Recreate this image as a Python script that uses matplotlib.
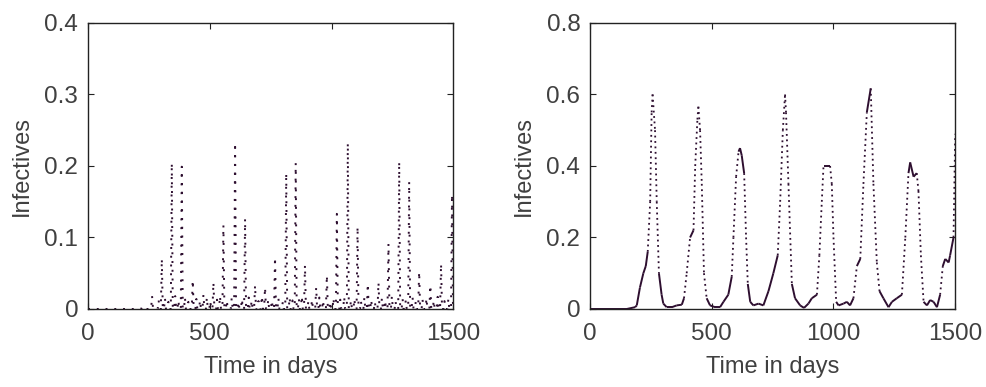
import numpy as np
import matplotlib
matplotlib.use("Agg")
import matplotlib.pyplot as plt
from matplotlib.collections import LineCollection

plt.rcParams['font.family'] = ['Liberation Sans', 'DejaVu Sans']

# left panel: fast spikes (time, peak height)
spike_t = [222, 263, 303, 344, 385, 430, 474, 515, 556, 604, 645, 686, 727, 768, 814, 853,
           891, 937, 981, 1022, 1067, 1107, 1149, 1193, 1234, 1278, 1319, 1360, 1406, 1450, 1495]
spike_h = [0.003, 0.018, 0.070, 0.204, 0.199, 0.040, 0.020, 0.037, 0.117, 0.232, 0.126, 0.033,
           0.030, 0.072, 0.190, 0.204, 0.061, 0.030, 0.047, 0.133, 0.232, 0.115, 0.035, 0.037,
           0.091, 0.206, 0.178, 0.052, 0.033, 0.063, 0.160]
small_t = [290, 316, 330, 358, 371, 398, 412, 445, 460, 488, 502, 530, 542, 570, 590, 618, 632,
           660, 672, 700, 714, 740, 755, 782, 800, 828, 840, 866, 878, 905, 920, 950, 965, 995,
           1008, 1036, 1052, 1080, 1094, 1121, 1135, 1163, 1178, 1207, 1220, 1248, 1263, 1292,
           1305, 1333, 1346, 1374, 1390, 1420, 1436, 1464, 1480]
small_h = [0.012, 0.015, 0.010, 0.018, 0.012, 0.016, 0.010, 0.014, 0.012, 0.016, 0.011, 0.013,
           0.018, 0.012, 0.015, 0.010, 0.014, 0.016, 0.012, 0.011, 0.018, 0.013, 0.012, 0.015,
           0.010, 0.016, 0.012, 0.014, 0.018, 0.011, 0.013, 0.016, 0.012, 0.010, 0.015, 0.013,
           0.017, 0.012, 0.014, 0.011, 0.016, 0.013, 0.010, 0.015, 0.012, 0.018, 0.011, 0.014,
           0.012, 0.016, 0.010, 0.013, 0.015, 0.012, 0.017, 0.011, 0.014]

# right panel: slow epidemic waves
wave_t = [0, 151, 185, 192, 205, 219, 229, 237, 247, 253, 257, 267, 274, 283, 294, 301, 315,
          336, 356, 377, 386, 397, 411, 425, 432, 441, 445, 452, 459, 468, 479, 493, 514, 534,
          548, 568, 582, 589, 600, 610, 616, 623, 633, 641, 648, 658, 671, 692, 712, 733, 753,
          771, 781, 792, 801, 805, 815, 829, 842, 863, 879, 897, 911, 932, 942, 952, 959, 973,
          986, 993, 1000, 1011, 1021, 1041, 1055, 1068, 1082, 1096, 1110, 1123, 1137, 1153, 1164,
          1178, 1189, 1205, 1226, 1240, 1260, 1281, 1295, 1308, 1315, 1329, 1342, 1349, 1359,
          1370, 1384, 1397, 1411, 1425, 1438, 1449, 1459, 1473, 1479, 1493, 1500]
wave_i = [0, 0, 0.005, 0.01, 0.06, 0.10, 0.12, 0.16, 0.30, 0.55, 0.60, 0.50, 0.30, 0.10, 0.04,
          0.015, 0.005, 0.005, 0.01, 0.012, 0.03, 0.10, 0.20, 0.22, 0.40, 0.53, 0.566, 0.50,
          0.35, 0.10, 0.03, 0.01, 0.005, 0.005, 0.02, 0.04, 0.09, 0.20, 0.37, 0.44, 0.45, 0.43,
          0.38, 0.20, 0.07, 0.02, 0.01, 0.015, 0.01, 0.05, 0.10, 0.15, 0.30, 0.50, 0.60, 0.55,
          0.35, 0.07, 0.03, 0.01, 0.003, 0.015, 0.03, 0.04, 0.15, 0.30, 0.40, 0.40, 0.40, 0.35,
          0.20, 0.02, 0.01, 0.015, 0.02, 0.01, 0.03, 0.12, 0.14, 0.35, 0.55, 0.617, 0.35, 0.13,
          0.05, 0.03, 0.005, 0.02, 0.03, 0.04, 0.20, 0.38, 0.41, 0.37, 0.38, 0.33, 0.15, 0.02,
          0.01, 0.025, 0.02, 0.005, 0.04, 0.12, 0.14, 0.13, 0.15, 0.20, 0.49]

line_col = '#2e0f30'
text_col = '#404040'

fig = plt.figure(figsize=(9.87, 3.87), dpi=100)
ax1 = fig.add_axes([0.0892, 0.2016, 0.370, 0.739])
ax2 = fig.add_axes([0.5978, 0.2016, 0.370, 0.739])

# left: build spike path from the spike lists
events = sorted(zip(spike_t + small_t, spike_h + small_h))
xs, ys = [0], [0]
for t, h in events:
    xs += [t - 4, t, t + 4]
    ys += [0, h, 0]
xs.append(1500)
ys.append(0)
ax1.plot(xs, ys, color=line_col, lw=1.4, linestyle=(0, (1, 3.5)))

# right: slow stretches look solid, fast stretches dotted
t = np.array(wave_t, dtype=float)
v = np.array(wave_i)
segs = [[(t[k], v[k]), (t[k + 1], v[k + 1])] for k in range(len(t) - 1)]
slope = np.abs(np.diff(v) / np.diff(t))
styles = ['solid' if s < 0.006 else (0, (1, 2)) for s in slope]
widths = [1.4 if s < 0.006 else 1.3 for s in slope]
ax2.add_collection(LineCollection(segs, colors=line_col, linestyles=styles, linewidths=widths))

for ax, ymax, yt, ylab in [(ax1, 0.4, [0, 0.1, 0.2, 0.3, 0.4], ['0', '0.1', '0.2', '0.3', '0.4']),
                           (ax2, 0.8, [0, 0.2, 0.4, 0.6, 0.8], ['0', '0.2', '0.4', '0.6', '0.8'])]:
    ax.set_xlim(0, 1500)
    ax.set_ylim(0, ymax)
    ax.set_xticks([0, 500, 1000, 1500])
    ax.set_yticks(yt)
    ax.set_yticklabels(ylab)
    ax.tick_params(direction='in', top=True, right=True, length=4, width=0.8,
                   labelsize=17.5, labelcolor=text_col, colors='#222222', pad=7)
    ax.tick_params(axis='x', pad=10)
    ax.tick_params(axis='both', labelcolor=text_col)
    for sp in ax.spines.values():
        sp.set_linewidth(1.0)
        sp.set_color('#222222')
    ax.set_xlabel('Time in days', fontsize=17, color=text_col, labelpad=8)
    ax.set_ylabel('Infectives', fontsize=17, color=text_col, labelpad=8)

fig.savefig('out.png', dpi=100)
